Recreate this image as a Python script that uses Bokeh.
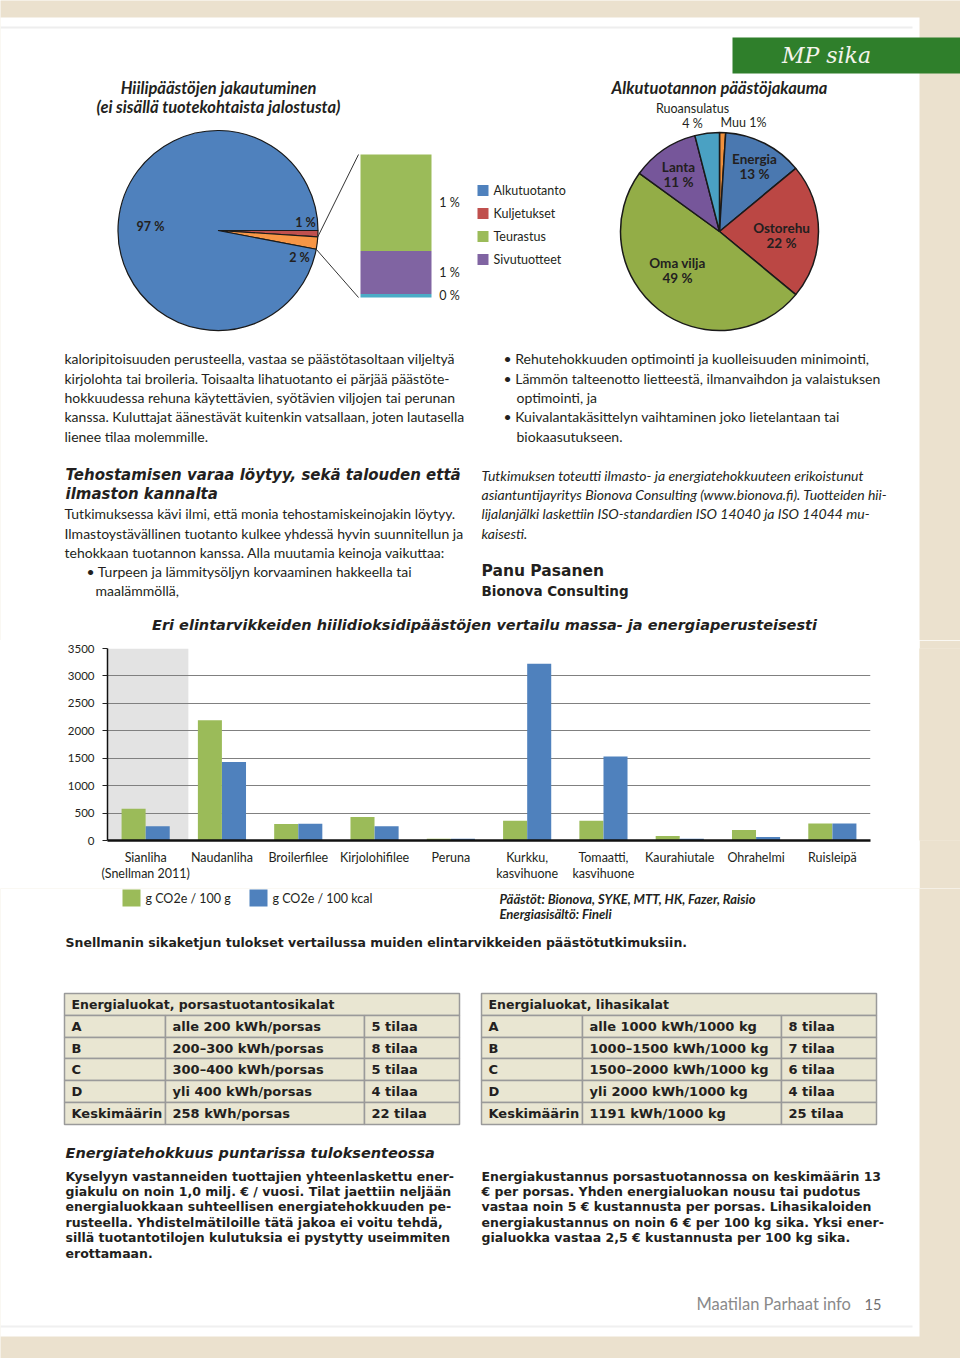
import numpy as np
from bokeh.plotting import figure
from bokeh.layouts import column, row
from bokeh.models import Range1d, FactorRange, FixedTicker, ColumnDataSource
from bokeh.transform import dodge
from bokeh.core.properties import value
from bokeh.embed import file_html
from bokeh.resources import INLINE

# ---------------- data ----------------
pie1_title = ["Hiilipäästöjen jakautuminen", "(ei sisällä tuotekohtaista jalostusta)"]
pie1_names = ["Kuljetukset", "Muut", "Alkutuotanto"]
pie1_values = [1, 2, 97]
pie1_labels = ["1 %", "2 %", "97 %"]

stack_names = ["Muu", "Sivutuotteet", "Teurastus"]      # bottom -> top
stack_values = [0.05, 0.6, 1.35]
stack_labels = ["0 %", "1 %", "1 %"]

legend1_names = ["Alkutuotanto", "Kuljetukset", "Teurastus", "Sivutuotteet"]

pie2_title = "Alkutuotannon päästöjakauma"
pie2_names = ["Muu", "Energia", "Ostorehu", "Oma vilja", "Lanta", "Ruoansulatus"]
pie2_values = [1, 13, 22, 49, 11, 4]

bar_title = "Eri elintarvikkeiden hiilidioksidipäästöjen vertailu massa- ja energiaperusteisesti"
food_labels = ["Sianliha\n(Snellman 2011)", "Naudanliha", "Broilerfilee", "Kirjolohifilee", "Peruna",
               "Kurkku,\nkasvihuone", "Tomaatti,\nkasvihuone", "Kaurahiutale", "Ohrahelmi", "Ruisleipä"]
co2_per_100g = [580, 2190, 300, 430, 30, 360, 360, 80, 190, 310]
co2_per_100kcal = [260, 1430, 305, 260, 30, 3220, 1530, 30, 65, 310]
y_ticks = [0, 500, 1000, 1500, 2000, 2500, 3000, 3500]
series_names = ["g CO2e / 100 g", "g CO2e / 100 kcal"]
sources = ["Päästöt: Bionova, SYKE, MTT, HK, Fazer, Raisio", "Energiasisältö: Fineli"]
caption = "Snellmanin sikaketjun tulokset vertailussa muiden elintarvikkeiden päästötutkimuksiin."

energy_classes = ["A", "B", "C", "D", "Keskimäärin"]
table1_title = "Energialuokat, porsastuotantosikalat"
table1_ranges = ["alle 200 kWh/porsas", "200–300 kWh/porsas", "300–400 kWh/porsas",
                 "yli 400 kWh/porsas", "258 kWh/porsas"]
table1_farms = ["5 tilaa", "8 tilaa", "5 tilaa", "4 tilaa", "22 tilaa"]
table2_title = "Energialuokat, lihasikalat"
table2_ranges = ["alle 1000 kWh/1000 kg", "1000–1500 kWh/1000 kg", "1500–2000 kWh/1000 kg",
                 "yli 2000 kWh/1000 kg", "1191 kWh/1000 kg"]
table2_farms = ["8 tilaa", "7 tilaa", "6 tilaa", "4 tilaa", "25 tilaa"]

para_left1 = ["kaloripitoisuuden perusteella, vastaa se päästötasoltaan viljeltyä",
              "kirjolohta tai broileria. Toisaalta lihatuotanto ei pärjää päästöte-",
              "hokkuudessa rehuna käytettävien, syötävien viljojen tai perunan",
              "kanssa. Kuluttajat äänestävät kuitenkin vatsallaan, joten lautasella",
              "lienee tilaa molemmille."]
heading1 = ["Tehostamisen varaa löytyy, sekä talouden että", "ilmaston kannalta"]
para_left2 = ["Tutkimuksessa kävi ilmi, että monia tehostamiskeinojakin löytyy.",
              "Ilmastoystävällinen tuotanto kulkee yhdessä hyvin suunnitellun ja",
              "tehokkaan tuotannon kanssa. Alla muutamia keinoja vaikuttaa:"]
bullets_left = ["• Turpeen ja lämmitysöljyn korvaaminen hakkeella tai", "maalämmöllä,"]
bullets_right = ["• Rehutehokkuuden optimointi ja kuolleisuuden minimointi,",
                 "• Lämmön talteenotto lietteestä, ilmanvaihdon ja valaistuksen",
                 "optimointi, ja",
                 "• Kuivalantakäsittelyn vaihtaminen joko lietelantaan tai",
                 "biokaasutukseen."]
para_italic = ["Tutkimuksen toteutti ilmasto- ja energiatehokkuuteen erikoistunut",
               "asiantuntijayritys Bionova Consulting (www.bionova.fi). Tuotteiden hii-",
               "lijalanjälki laskettiin ISO-standardien ISO 14040 ja ISO 14044 mu-",
               "kaisesti."]
author = ["Panu Pasanen", "Bionova Consulting"]
heading2 = "Energiatehokkuus puntarissa tuloksenteossa"
para_bottom_left = ["Kyselyyn vastanneiden tuottajien yhteenlaskettu ener-",
                    "giakulu on noin 1,0 milj. € / vuosi. Tilat jaettiin neljään",
                    "energialuokkaan suhteellisen energiatehokkuuden pe-",
                    "rusteella. Yhdistelmätiloille tätä jakoa ei voitu tehdä,",
                    "sillä tuotantotilojen kulutuksia ei pystytty useimmiten",
                    "erottamaan."]
para_bottom_right = ["Energiakustannus porsastuotannossa on keskimäärin 13",
                     "€ per porsas. Yhden energialuokan nousu tai pudotus",
                     "vastaa noin 5 € kustannusta per porsas. Lihasikaloiden",
                     "energiakustannus on noin 6 € per 100 kg sika. Yksi ener-",
                     "gialuokka vastaa 2,5 € kustannusta per 100 kg sika."]
footer = ["Maatilan Parhaat info", "15"]
banner = "MP sika"

# ---------------- style ----------------
W = 960
BEIGE = "#ebe1ce"
WHITE = "#ffffff"
INK = "#231f20"
FONT = "Lato"
HEAVY = "DejaVu Sans"
BLUE, RED, GREEN, PURPLE, TEAL, ORANGE = "#4f81bd", "#c0504d", "#9bbb59", "#8064a2", "#4bacc6", "#f79646"
PIE2_COLORS = ["#f0903c", "#4a78b0", "#bb4744", "#93ad47", "#76569a", "#4aa1c3"]
TABLE_FILL = "#e9e6d2"
TABLE_LINE = "#9a9a9a"


def page_fig(h):
    p = figure(width=W, height=h, x_range=Range1d(0, W), y_range=Range1d(0, h),
               x_axis_type=None, y_axis_type=None, output_backend="svg",
               toolbar_location=None, min_border=0)
    p.grid.visible = False
    p.outline_line_color = None
    p.background_fill_color = BEIGE
    p.border_fill_color = BEIGE
    return p


def txt(p, top, h, xs, ys, texts, size, font=FONT, style="normal", color=INK, align="left"):
    p.text(x=list(xs), y=[h - (y - top) for y in ys], text=list(texts),
           text_font=value(font), text_font_size=f"{size}px", text_font_style=style,
           text_color=color, text_align=align, text_baseline="middle")


# ================= TOP PART (page y 0..640) =================
H1, T1 = 640, 0
p1 = page_fig(H1)
Y1 = lambda y: H1 - (y - T1)
p1.quad(left=-5, right=919, bottom=-10, top=Y1(17), fill_color=WHITE, line_color=None)
p1.segment(x0=[0], y0=[Y1(27)], x1=[912], y1=[Y1(27)], line_color="#eeeeee", line_width=2)
# green banner
p1.quad(left=732, right=965, bottom=Y1(73), top=Y1(37), fill_color="#2f7f2b", line_color=None)
txt(p1, T1, H1, [826], [55], [banner], 22, font="DejaVu Serif", style="italic", color="#f4f4ec", align="center")

# ---- pie 1 ----
c1x, c1y, r1 = 217.5, 230, 100
v1 = np.array(pie1_values, dtype=float)
cum1 = np.cumsum(v1)
p1.wedge(x=c1x, y=Y1(c1y), radius=r1,
         start_angle=list(-cum1 / 100 * 2 * np.pi), end_angle=list(-(cum1 - v1) / 100 * 2 * np.pi),
         fill_color=[RED, ORANGE, BLUE], line_color="#1a1a1a", line_width=1.2)
txt(p1, T1, H1, [305, 299, 150], [222, 257, 226], pie1_labels, 12.5, style="bold", align="center")
txt(p1, T1, H1, [218, 218], [87, 106], pie1_title, 16.5, style="bold italic", align="center")

# ---- stacked bar (pie-of-pie) via its own scale ----
s_top_px, s_bot_px = 154, 297
tot = float(sum(stack_values))
span = tot * H1 / (s_bot_px - s_top_px)
b_end = (s_bot_px - T1) * span / H1
p1.extra_y_ranges = {"stack": Range1d(b_end - span, b_end)}
sv = np.array(stack_values)
sc = np.cumsum(sv)
p1.vbar(x=395.5, width=71, bottom=list(sc - sv), top=list(sc),
        fill_color=[TEAL, PURPLE, GREEN], line_color=None, y_range_name="stack")
p1.text(x=[449, 449, 449], y=list(sc - sv / 2), text=stack_labels, y_range_name="stack",
        text_font=value(FONT), text_font_size="12.5px", text_color=INK,
        text_align="center", text_baseline="middle")
# connector lines from pie edge to stack bar
a_hi = cum1[0] / 100 * 2 * np.pi
a_lo = cum1[1] / 100 * 2 * np.pi
p1.segment(x0=[c1x + r1 * np.cos(a_hi), c1x + r1 * np.cos(a_lo)],
           y0=[Y1(c1y + r1 * np.sin(a_hi)), Y1(c1y + r1 * np.sin(a_lo))],
           x1=[358, 358], y1=[Y1(s_top_px), Y1(s_bot_px)], line_color="#333333", line_width=1)

# legend 1
leg_y = [190, 213, 236, 259]
p1.rect(x=[482.5] * 4, y=[Y1(y) for y in leg_y], width=11, height=11,
        fill_color=[BLUE, RED, GREEN, PURPLE], line_color=None)
txt(p1, T1, H1, [493] * 4, leg_y, legend1_names, 12.5)

# ---- pie 2 ----
c2x, c2y, r2 = 719, 231, 99
v2 = np.array(pie2_values, dtype=float)
cum2 = np.cumsum(v2)
p1.wedge(x=c2x, y=Y1(c2y), radius=r2,
         start_angle=list(np.pi / 2 - cum2 / 100 * 2 * np.pi),
         end_angle=list(np.pi / 2 - (cum2 - v2) / 100 * 2 * np.pi),
         fill_color=PIE2_COLORS, line_color="#1a1a1a", line_width=1.5)
txt(p1, T1, H1, [719], [87], [pie2_title], 16.5, style="bold italic", align="center")
inner = {"Energia": (754, 158), "Ostorehu": (781, 227), "Oma vilja": (677, 262), "Lanta": (678, 166)}
for name, val in zip(pie2_names, pie2_values):
    if name in inner:
        x, y = inner[name]
        txt(p1, T1, H1, [x, x], [y, y + 15], [name, f"{val} %"], 13.5, style="bold", align="center")
    elif name == "Ruoansulatus":
        txt(p1, T1, H1, [692, 692], [108, 123], [name, f"{val} %"], 12.5, align="center")
    else:
        txt(p1, T1, H1, [743], [122], [f"{name} {val}%"], 12.5, align="center")

# ---- text blocks ----
txt(p1, T1, H1, [64] * 5, [358, 378, 397, 416, 436], para_left1, 14)
txt(p1, T1, H1, [65, 65], [474, 493], heading1, 15, font=HEAVY, style="bold italic")
txt(p1, T1, H1, [64] * 3, [513, 533, 552], para_left2, 14)
txt(p1, T1, H1, [86, 95], [571, 590], bullets_left, 14)
txt(p1, T1, H1, [503, 503, 516, 503, 516], [358, 378, 397, 416, 436], bullets_right, 14)
txt(p1, T1, H1, [481] * 4, [475, 494, 513, 533], para_italic, 14, style="italic")
txt(p1, T1, H1, [481], [570], [author[0]], 15.5, font=HEAVY, style="bold")
txt(p1, T1, H1, [481], [590], [author[1]], 13.5, font=HEAVY, style="bold")
txt(p1, T1, H1, [484], [624], [bar_title], 14.5, font=HEAVY, style="bold italic", align="center")

# ================= BAR CHART (page y 640..888) =================
p2 = figure(width=919, height=248, x_range=FactorRange(factors=food_labels, range_padding=0),
            y_range=Range1d(0, 3500), output_backend="svg", toolbar_location=None,
            min_border_left=107, min_border_right=49, min_border_top=8, min_border_bottom=48)
p2.background_fill_color = WHITE
p2.border_fill_color = WHITE
p2.outline_line_color = None
p2.vbar(x=[food_labels[0]], width=1.12, bottom=0, top=y_ticks[-1], fill_color="#e3e3e3",
        line_color=None, level="image")
src = ColumnDataSource(dict(food=food_labels, g=co2_per_100g, kcal=co2_per_100kcal))
p2.vbar(x=dodge("food", -0.158, range=p2.x_range), top="g", width=0.315, source=src,
        fill_color=GREEN, line_color=None)
p2.vbar(x=dodge("food", 0.158, range=p2.x_range), top="kcal", width=0.315, source=src,
        fill_color=BLUE, line_color=None)
p2.xgrid.grid_line_color = None
p2.ygrid.grid_line_color = "#808080"
p2.ygrid.grid_line_width = 1
p2.yaxis.ticker = FixedTicker(ticks=y_ticks)
p2.yaxis.minor_tick_line_color = None
p2.yaxis.major_tick_out = 5
p2.yaxis.major_tick_in = 0
p2.yaxis.major_tick_line_color = "#222222"
p2.yaxis.axis_line_color = "#111111"
p2.yaxis.axis_line_width = 1.5
p2.yaxis.major_label_standoff = 8
p2.yaxis.major_label_text_font = FONT
p2.yaxis.major_label_text_font_size = "11.5px"
p2.yaxis.major_label_text_color = INK
p2.xaxis.axis_line_color = "#111111"
p2.xaxis.axis_line_width = 2.5
p2.xaxis.major_tick_line_color = None
p2.xaxis.minor_tick_line_color = None
p2.xaxis.major_label_standoff = 3
p2.xaxis.major_label_text_font = FONT
p2.xaxis.major_label_text_font_size = "12.5px"
p2.xaxis.major_label_text_line_height = 1.1
p2.xaxis.major_label_text_color = INK

spacer = figure(width=41, height=248, x_range=Range1d(0, 1), y_range=Range1d(0, 1),
                x_axis_type=None, y_axis_type=None, output_backend="svg",
                toolbar_location=None, min_border=0)
spacer.grid.visible = False
spacer.outline_line_color = None
spacer.background_fill_color = BEIGE
spacer.border_fill_color = BEIGE
spacer.quad(left=-1, right=2, bottom=-1, top=2, fill_color=BEIGE, line_color=None)

# ================= BOTTOM PART (page y 888..1358) =================
H3, T3 = 470, 888
p3 = page_fig(H3)
Y3 = lambda y: H3 - (y - T3)
p3.quad(left=-5, right=919, bottom=Y3(1336), top=H3 + 10, fill_color=WHITE, line_color=None)
p3.segment(x0=[0], y0=[Y3(1326)], x1=[912], y1=[Y3(1326)], line_color="#f0f0f0", line_width=2)

# legend of the bar chart
p3.rect(x=[131, 258], y=[Y3(897.5)] * 2, width=18, height=17, fill_color=[GREEN, BLUE], line_color=None)
txt(p3, T3, H3, [145, 272], [898, 898], series_names, 12.5)
txt(p3, T3, H3, [499, 499], [898, 913], sources, 13, style="bold italic")
txt(p3, T3, H3, [65], [942], [caption], 12.5, font=HEAVY, style="bold")

# tables
row_edges = [993, 1015, 1037, 1058, 1080, 1102, 1124]
tables = [
    dict(left=64, right=459, c1=165, c2=364, title=table1_title, ranges=table1_ranges, farms=table1_farms),
    dict(left=481, right=876, c1=582, c2=781, title=table2_title, ranges=table2_ranges, farms=table2_farms),
]
for t in tables:
    L, R, C1, C2 = t["left"], t["right"], t["c1"], t["c2"]
    ql, qr, qt, qb = [L], [R], [Y3(row_edges[0])], [Y3(row_edges[1])]
    for i in range(len(energy_classes)):
        top, bot = row_edges[i + 1], row_edges[i + 2]
        for a, b in ((L, C1), (C1, C2), (C2, R)):
            ql.append(a); qr.append(b); qt.append(Y3(top)); qb.append(Y3(bot))
    p3.quad(left=ql, right=qr, top=qt, bottom=qb, fill_color=TABLE_FILL,
            line_color=TABLE_LINE, line_width=1.5)
    txt(p3, T3, H3, [L + 7], [(row_edges[0] + row_edges[1]) / 2], [t["title"]], 12.5, font=HEAVY, style="bold")
    mids = [(row_edges[i + 1] + row_edges[i + 2]) / 2 for i in range(len(energy_classes))]
    txt(p3, T3, H3, [L + 7] * 5, mids, energy_classes, 13, font=HEAVY, style="bold")
    txt(p3, T3, H3, [C1 + 7] * 5, mids, t["ranges"], 13, font=HEAVY, style="bold")
    txt(p3, T3, H3, [C2 + 7] * 5, mids, t["farms"], 13, font=HEAVY, style="bold")

txt(p3, T3, H3, [65], [1152], [heading2], 14.5, font=HEAVY, style="bold italic")
txt(p3, T3, H3, [65] * 6, [1176, 1191, 1206, 1222, 1237, 1253], para_bottom_left, 12.5, font=HEAVY, style="bold")
txt(p3, T3, H3, [481] * 5, [1176, 1191, 1206, 1222, 1237], para_bottom_right, 12.5, font=HEAVY, style="bold")
txt(p3, T3, H3, [696], [1303], [footer[0]], 16.5, color="#8a8a8a")
txt(p3, T3, H3, [864], [1304], [footer[1]], 14.5, color="#6e6e6e")

layout = column(p1, row(p2, spacer, spacing=0), p3, spacing=0)
open("out.html", "w").write(file_html(layout, INLINE, title="MP sika"))
